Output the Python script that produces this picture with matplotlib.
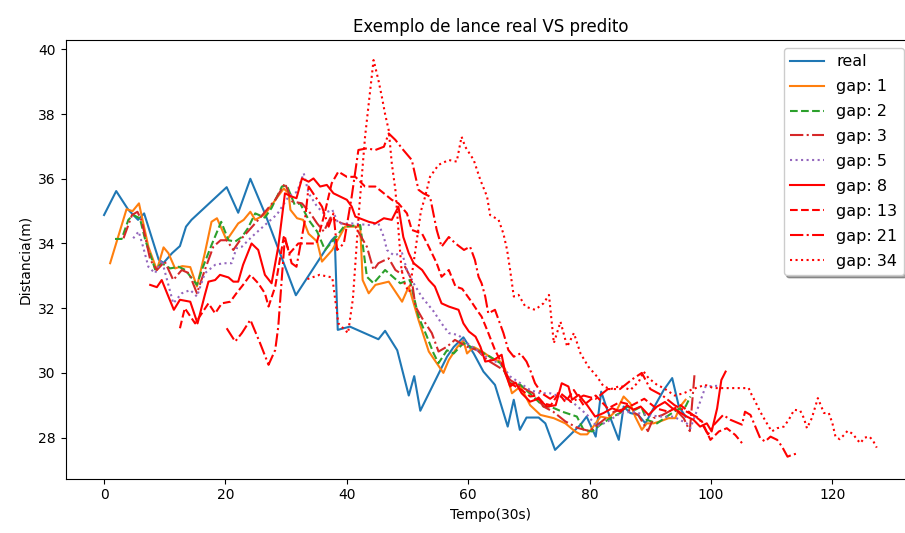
import matplotlib
matplotlib.use("Agg")
import matplotlib.pyplot as plt

# real series (irregular time steps)
real_x = [0, 2, 4, 5.6, 6.6, 9, 9.8, 11.2, 12.5, 13.5, 14.4, 20.2, 22.1, 24.1, 26.5, 31.6, 37.5, 38.0, 38.5,
          40.5, 45.2, 46.3, 48.3, 50.2, 51.1, 52.1, 56.5, 57.6, 59.2, 60.9, 62.5, 64.4, 66.5, 67.5, 68.5, 69.6,
          71.6, 72.7, 74.3, 78.5, 79.5, 81, 81.9, 82.9, 84.8, 85.6, 86.7, 88, 89.2, 90.5, 92.2, 93.6, 94.7, 95.8]
real_y = [34.88, 35.62, 35.04, 34.73, 34.93, 33.5, 33.4, 33.7, 33.92, 34.52, 34.73, 35.74, 34.95, 36.0, 34.93,
          32.4, 34.1, 34.2, 31.33, 31.43, 31.04, 31.3, 30.7, 29.3, 29.9, 28.83, 30.5, 30.8, 31.1, 30.6, 30.04,
          29.63, 28.34, 29.17, 28.24, 28.62, 28.62, 28.44, 27.62, 28.4, 28.65, 28.03, 29.42, 28.86, 27.93, 28.96,
          28.76, 28.7, 28.44, 28.9, 29.47, 29.84, 28.96, 28.65]

gap1_x = [1, 3.7, 4.7, 5.75, 7.3, 8.7, 9.8, 10.6, 11.7, 12.9, 14.2, 15.3, 16.6, 17.7, 18.6, 20.2, 22.1, 23,
          24.1, 24.9, 26.5, 29.6, 30.4, 30.7, 31.8, 32.8, 33.7, 35.1, 35.9, 37.6, 39.7, 42.2, 42.6, 43.6, 44.7,
          46.9, 49.1, 50.2, 51.8, 53.5, 55.9, 56.8, 58.2, 59.2, 59.8, 60.9, 62.3, 63.9, 65.3, 66.1, 67.2, 68.6,
          70.2, 71.9, 74.1, 76, 77.6, 78.5, 79.6, 80.6, 81.8, 83.1, 84.5, 85.6, 86.7, 87.5, 88.6, 89.4, 90.5,
          91.6, 93, 94.1, 94.9, 95.8]
gap1_y = [33.39, 35.06, 35.0, 35.24, 33.9, 33.18, 33.88, 33.7, 33.23, 33.3, 33.27, 32.67, 33.7, 34.67, 34.78,
          34.1, 34.62, 34.73, 34.98, 34.73, 34.9, 35.7, 35.55, 35.04, 34.78, 34.73, 34.3, 34.06, 33.44, 33.8,
          34.52, 34.52, 32.87, 32.46, 32.72, 32.82, 32.2, 32.67, 31.64, 30.66, 30.0, 30.4, 30.8, 31.0, 30.6,
          30.8, 30.66, 30.45, 30.35, 30.1, 29.37, 29.58, 29.0, 28.7, 28.6, 28.44, 28.19, 28.1, 28.1, 28.34,
          28.65, 28.6, 28.86, 29.27, 29.06, 28.65, 28.24, 28.44, 28.44, 28.5, 28.6, 28.6, 28.96, 29.17]

gap2_x = [1.8, 2.9, 4, 4.8, 5.9, 6.8, 7.9, 8.4, 9.5, 10.9, 12.3, 13.4, 15.3, 16.1, 17.7, 19.3, 20.5, 21.6,
          22.7, 23.7, 24.9, 26.5, 27.6, 29.3, 30.1, 31.4, 32.3, 33.7, 35.1, 36.4, 37.8, 39.5, 42.2, 43.3, 44.4,
          46.3, 48.8, 50.4, 51.8, 53.2, 54.3, 55.1, 56.5, 57.6, 59.2, 62, 63.6, 65.3, 66.9, 68.6, 70.7, 72.4,
          73.5, 75.5, 77.9, 79, 80.4, 81.8, 83.4, 85, 86.1, 87.5, 88.5, 89.4, 91.1, 92.7, 94.4, 95.8, 96.6]
gap2_y = [34.14, 34.14, 34.73, 34.88, 34.78, 34.1, 33.5, 33.2, 33.39, 33.23, 33.28, 33.18, 32.72, 33.18, 33.95,
          34.67, 34.1, 34.06, 34.2, 34.47, 34.93, 34.8, 35.1, 35.76, 35.8, 35.2, 35.24, 34.73, 34.37, 33.8,
          34.1, 34.52, 34.57, 32.97, 32.77, 33.18, 32.77, 32.87, 31.74, 31.12, 30.6, 30.3, 30.7, 30.6, 30.92,
          30.66, 30.5, 30.3, 29.68, 29.63, 29.27, 28.96, 28.96, 28.8, 28.65, 28.24, 28.19, 28.4, 28.6, 28.76,
          28.96, 28.86, 28.96, 28.55, 28.44, 28.65, 28.86, 28.96, 29.27]

gap3_x = [3.2, 4.6, 5.5, 6.2, 7.6, 8.7, 10, 11.4, 12.8, 14, 15.3, 16.6, 18, 19.2, 20.2, 21.3, 22.4, 23.7, 25.4,
          28.2, 29.8, 31, 32.6, 34, 35.1, 36.2, 37.3, 39.2, 41.4, 43.3, 44.4, 45.2, 46.3, 46.9, 48, 48.8, 49.6,
          50.7, 51.3, 52.4, 54, 55.1, 56.5, 57.8, 59.8, 61.5, 63.1, 65.8, 66.9, 68.6, 70.7, 72.4, 74, 76, 78,
          80, 82, 84, 86, 88, 89.6, 90.5, 92, 94, 95.5, 96.5, 97.3]
gap3_y = [34.16, 34.88, 34.98, 34.7, 33.5, 33.18, 33.44, 32.87, 33.18, 33.08, 32.46, 33.18, 33.9, 34.1, 34.1,
          33.8, 34.1, 34.37, 34.73, 35.35, 35.86, 35.3, 35.24, 34.93, 34.62, 34.37, 34.8, 34.62, 34.52, 33.9,
          33.18, 33.39, 33.49, 33.54, 33.18, 33.08, 33.28, 32.87, 32.05, 31.69, 31.23, 30.66, 30.81, 31.02,
          30.81, 30.7, 30.4, 30.09, 29.78, 29.58, 29.37, 28.96, 28.8, 28.5, 28.3, 28.2, 28.5, 28.8, 28.9, 28.7,
          28.2, 28.6, 28.7, 28.9, 28.6, 28.2, 30.0]

gap5_x = [4.8, 5.7, 6.5, 7.3, 8.4, 9.5, 10.3, 11.4, 12.8, 14.2, 15.3, 16.6, 18.3, 19.7, 21, 21.8, 22.7, 24.3,
          26.5, 28.5, 30.4, 31.8, 32.9, 33.7, 35.1, 36.2, 37.6, 38.6, 40.8, 43.6, 45.2, 46.1, 46.6, 47.7, 49.1,
          49.9, 51, 52.3, 54.3, 55.6, 56.8, 58.4, 59.8, 61.4, 63.6, 65.3, 66.9, 68.6, 70.2, 71.9, 73.5, 75.2,
          77.4, 79.6, 81.2, 83, 85.1, 87, 89.4, 91.6, 93.8, 96, 96.6, 98, 99.1, 101]
gap5_y = [34.16, 34.37, 33.85, 33.28, 33.08, 33.49, 32.93, 32.15, 32.46, 32.56, 32.36, 33.08, 33.34, 33.39,
          33.39, 33.85, 33.9, 34.2, 34.57, 34.9, 35.45, 35.6, 36.17, 35.55, 35.14, 34.93, 35.04, 34.62, 34.62,
          34.57, 34.62, 34.2, 33.8, 33.64, 33.7, 33.18, 32.77, 32.36, 31.9, 31.53, 31.23, 31.17, 30.92, 30.71,
          30.4, 30.3, 29.89, 29.68, 29.47, 29.37, 29.37, 29.27, 29.06, 28.7, 28.34, 28.5, 28.76, 28.8, 28.7,
          28.65, 28.65, 28.44, 28.29, 29.0, 29.58, 29.6]

gap8_x = [7.6, 8.7, 9.5, 10.6, 11.5, 12.5, 14.2, 15.4, 16.6, 17.2, 18.3, 19.1, 20.5, 21.3, 22.1, 22.9, 24.3,
          25.4, 26.5, 27.6, 28.7, 29.8, 30.9, 31.7, 32.6, 33.7, 34.5, 35.6, 36.7, 37.8, 38.9, 40, 40.8, 41.4,
          42.5, 43.6, 44.7, 46.1, 47.4, 48.5, 49.3, 50.2, 51, 52.4, 53.5, 54.5, 55.6, 56.8, 58.4, 59.2, 60.1,
          61.2, 62, 62.8, 64.2, 65.5, 66.1, 66.9, 67.8, 68.8, 70.2, 71.5, 73, 74.4, 75.4, 76.5, 77.1, 78.2,
          79.6, 80.9, 82.3, 83.7, 85.1, 86.2, 87.2, 88.4, 89.7, 91.1, 92.4, 93.6, 94.7, 96, 97.1, 98.2, 99.3,
          100.1, 101, 101.7, 102.4]
gap8_y = [32.72, 32.65, 32.87, 32.36, 31.95, 32.26, 32.2, 31.53, 32.41, 32.82, 32.87, 33.03, 32.95, 32.82,
          32.82, 33.34, 34.0, 33.8, 33.03, 32.77, 33.9, 35.55, 35.45, 35.4, 36.01, 35.91, 36.01, 35.76, 35.81,
          35.55, 35.45, 35.35, 35.14, 34.83, 34.75, 34.67, 34.62, 34.78, 34.73, 35.14, 34.2, 33.7, 33.39,
          33.18, 32.87, 32.67, 32.15, 32.05, 31.95, 31.53, 31.28, 31.12, 30.81, 30.35, 30.4, 30.56, 29.99,
          29.58, 29.7, 29.37, 29.11, 29.2, 28.96, 29.0, 29.68, 29.58, 29.17, 29.32, 29.0, 28.65, 28.76, 28.91,
          28.8, 29.0, 28.86, 28.96, 28.7, 28.96, 29.1, 28.91, 28.8, 28.65, 28.55, 28.34, 28.44, 28.19, 28.9,
          29.78, 30.04]

gap13_x = [12.5, 13.3, 15, 17.2, 18.3, 19.4, 20.8, 21.8, 22.9, 24.1, 25.4, 26.5, 27.1, 28.2, 29.6, 30.6, 32,
           35, 36.3, 37.5, 38.6, 40, 41.4, 43, 44.7, 46.1, 47.4, 48.5, 49.9, 50.7, 52.4, 53.5, 54.8, 55.6, 56.8,
           57.9, 59, 60.3, 61.4, 62.2, 63.1, 64.4, 65.5, 66.9, 68.8, 70.2, 71.3, 72.4, 73.6, 74.9, 76, 77.4, 79,
           81, 83, 85, 87, 89, 91, 93, 95, 97, 98.5, 99.9, 101.3, 102.6, 104, 105.1]
gap13_y = [31.38, 32.0, 31.53, 32.15, 31.84, 32.15, 32.2, 32.46, 32.72, 33.03, 32.77, 32.46, 32.05, 32.67, 34.2,
           33.7, 34.0, 34.0, 34.9, 35.86, 36.22, 36.06, 36.06, 35.76, 35.76, 35.55, 35.35, 35.24, 34.93, 34.42,
           34.3, 33.9, 33.39, 32.97, 33.18, 32.67, 32.6, 32.26, 31.95, 31.74, 31.33, 30.71, 30.3, 29.68, 29.47,
           29.27, 29.3, 29.06, 29.0, 29.37, 29.1, 29.47, 29.0, 29.3, 28.9, 29.1, 29.0, 29.2, 28.9, 28.8, 29.0,
           28.7, 28.5, 27.93, 28.19, 28.29, 28.08, 27.83]

gap21_x = [20.2, 21.6, 22.7, 24.1, 25.7, 27.1, 28.2, 28.7, 29.3, 29.8, 30.9, 31.7, 33.1, 33.7, 35.9, 37, 37.8,
           38.4, 39.5, 40.8, 41.9, 43.3, 44.7, 46.1, 46.9, 48, 49.3, 50.7, 51.8, 52.6, 53.7, 54.8, 55.6, 56.8,
           57.9, 59.3, 60.3, 61.1, 61.7, 62.2, 62.8, 63.3, 64.4, 65.8, 66.6, 67.5, 68.6, 69.6, 70.2, 71, 72.1,
           73.5, 75, 77, 79, 81, 83, 85, 87, 88.6, 90, 92, 94, 96, 98, 99.5, 100.5, 102, 103.2, 105.1, 105.6,
           106.5, 107.3, 108.1, 108.9, 109.8, 110.9, 111.7, 112.6, 113.4, 114.4]
gap21_y = [31.38, 30.97, 31.23, 31.64, 30.92, 30.25, 30.71, 31.43, 32.97, 34.2, 33.39, 33.28, 34.73, 35.76,
           35.14, 34.52, 34.93, 33.8, 34.0, 35.45, 36.89, 36.94, 36.89, 36.99, 37.4, 37.2, 36.89, 36.58, 35.66,
           35.55, 35.45, 34.42, 33.9, 34.2, 34.0, 33.8, 33.9, 33.49, 32.97, 32.77, 32.36, 31.84, 31.95, 31.23,
           30.71, 30.5, 30.6, 30.35, 30.09, 29.68, 29.37, 29.2, 29.4, 29.1, 29.3, 29.2, 29.5, 29.5, 29.8, 30.0,
           29.5, 29.3, 29.0, 28.8, 28.6, 28.1, 28.4, 28.7, 28.55, 28.4, 28.8, 28.7, 28.34, 27.98, 27.88, 28.03,
           27.93, 27.72, 27.41, 27.47, 27.52]

gap34_x = [33.5, 35.5, 37.6, 38.6, 40.2, 41, 42, 43, 44.4, 45.2, 45.8, 46.3, 46.9, 47.4, 48, 48.5, 49, 49.6,
           50.3, 51.3, 52.2, 52.9, 53.7, 55.1, 56.8, 58.1, 58.9, 59.5, 60.9, 62, 63.1, 63.6, 65, 65.8, 66.4,
           66.9, 67.5, 68.3, 69.4, 71, 72.4, 73.3, 74.1, 75.2, 76.3, 77.4, 78.5, 79.8, 81.2, 82.3, 83.5, 85.1,
           86.7, 88.1, 88.9, 89.7, 91.1, 92.2, 94, 95.5, 97, 99, 100.4, 102.6, 103.7, 106.2, 106.7, 107.3,
           108.1, 109.2, 110, 110.9, 112, 112.8, 113.7, 114.7, 115.3, 115.8, 116.6, 117.6, 118.6, 119.4, 120,
           120.5, 121.2, 121.9, 122.5, 123.4, 124, 124.6, 125.3, 126.1, 126.7, 127.3]
gap34_y = [32.9, 33.03, 32.95, 31.53, 31.23, 32.3, 35.0, 37.3, 39.67, 39.05, 38.5, 38.0, 37.5, 36.48, 35.65,
           34.42, 33.2, 32.7, 32.5, 33.8, 35.0, 35.45, 36.06, 36.43, 36.58, 36.53, 37.3, 36.99, 36.58, 35.96,
           35.45, 34.88, 34.73, 34.3, 33.8, 33.18, 32.36, 32.41, 32.05, 31.95, 32.15, 32.41, 30.92, 31.58,
           30.81, 31.23, 30.6, 30.19, 29.89, 29.58, 29.5, 29.6, 29.47, 29.73, 30.04, 29.84, 29.63, 29.53, 29.3,
           29.37, 29.5, 29.63, 29.53, 29.53, 29.53, 29.53, 29.32, 29.11, 28.8, 28.44, 28.19, 28.29, 28.34,
           28.55, 28.86, 28.83, 28.6, 28.29, 28.6, 29.22, 28.76, 28.76, 28.44, 28.03, 27.95, 28.08, 28.21,
           28.11, 27.95, 27.83, 28.0, 28.03, 27.9, 27.69]

series = [
    ("real", real_x, real_y, "C0", "-"),
    ("gap: 1", gap1_x, gap1_y, "C1", "-"),
    ("gap: 2", gap2_x, gap2_y, "C2", "--"),
    ("gap: 3", gap3_x, gap3_y, "C3", "-."),
    ("gap: 5", gap5_x, gap5_y, "C4", ":"),
    ("gap: 8", gap8_x, gap8_y, "red", "-"),
    ("gap: 13", gap13_x, gap13_y, "red", "--"),
    ("gap: 21", gap21_x, gap21_y, "red", "-."),
    ("gap: 34", gap34_x, gap34_y, "red", ":"),
]

fig = plt.figure(figsize=(9.05, 5.33), dpi=100)
ax = fig.add_axes([0.0724, 0.1019, 0.9393, 0.8231])
for lbl, xs, ys, c, ls in series:
    ax.plot(xs, ys, color=c, ls=ls, label=lbl)

ax.set_xlim(-6.35, 133.7)
ax.set_ylim(26.73, 40.29)
ax.set_title("Exemplo de lance real VS predito")
ax.set_xlabel("Tempo(30s)")
ax.set_ylabel("Distancia(m)")
ax.legend(loc="upper right", bbox_to_anchor=(0.9958, 1.0), shadow=True, fontsize=11.5, handlelength=2.1,
          labelspacing=0.62)

fig.savefig("out.png", dpi=100)
